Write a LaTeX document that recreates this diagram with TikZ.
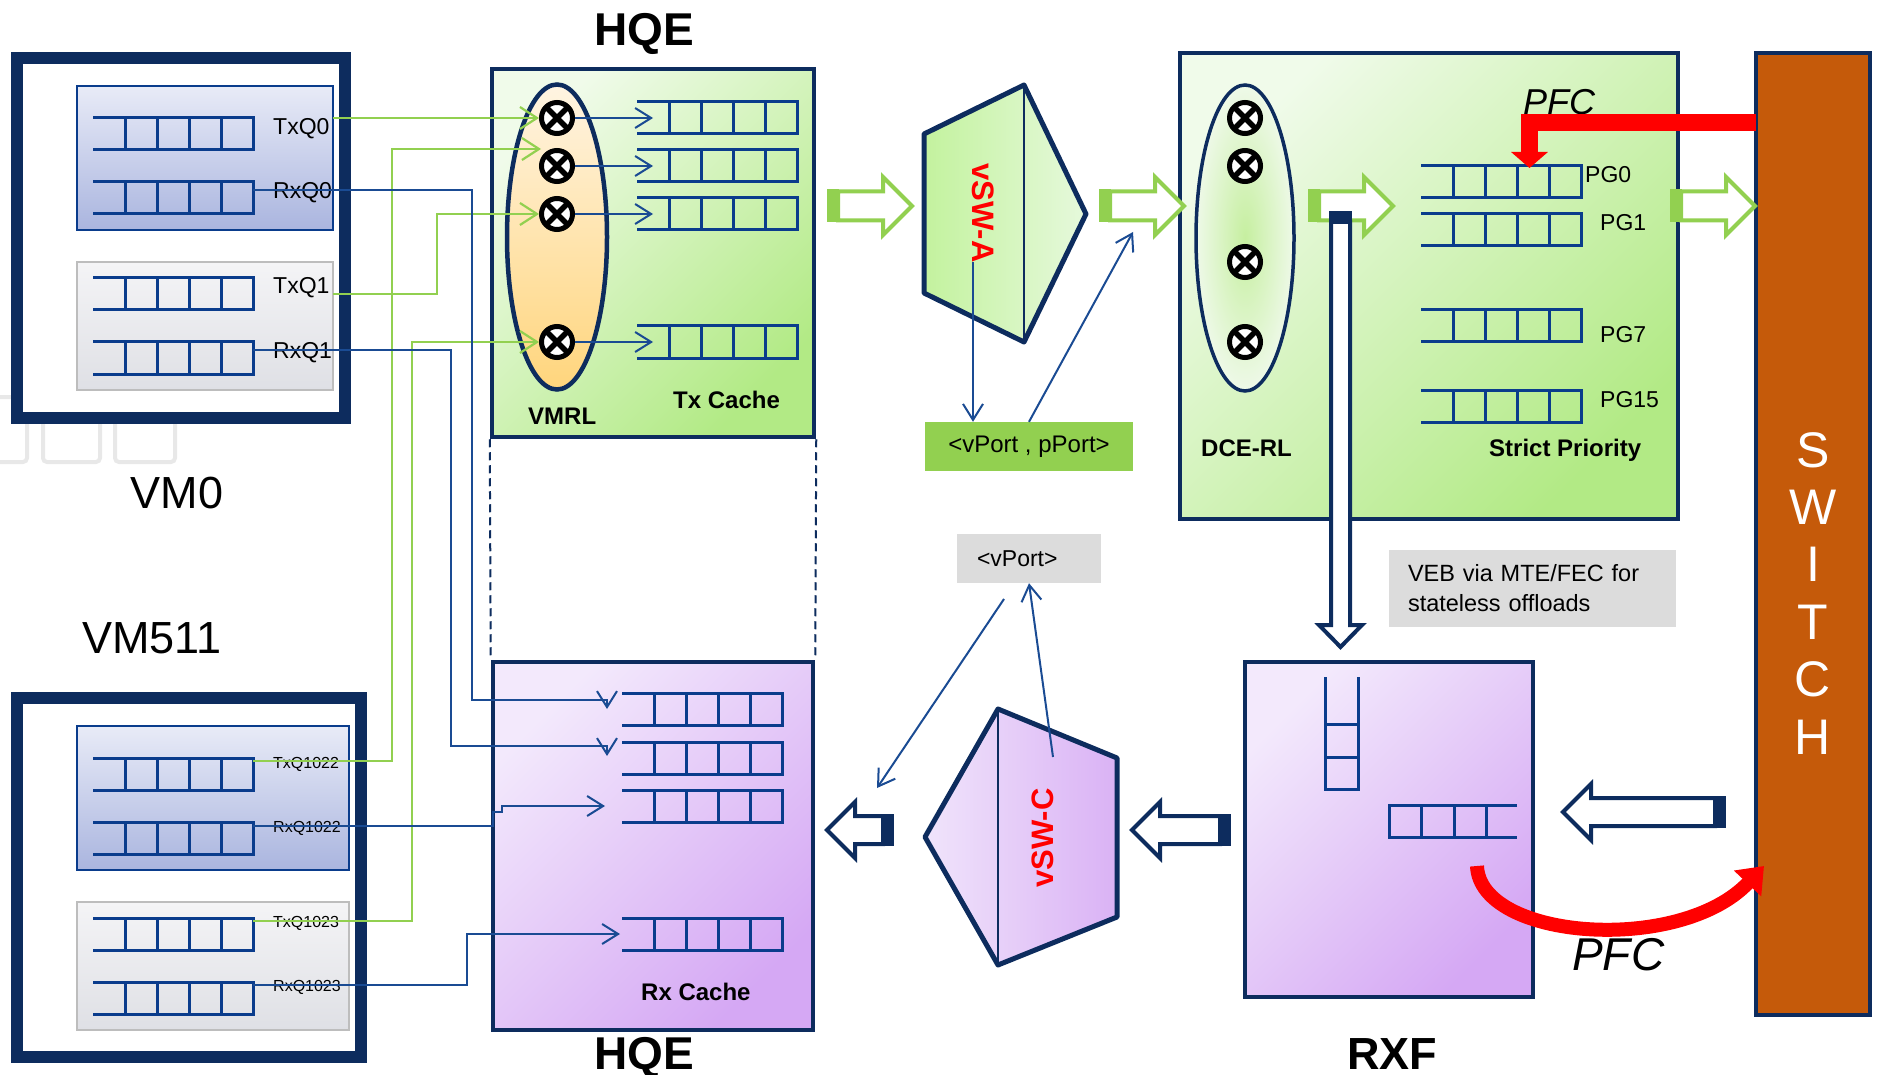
\documentclass[tikz,border=0pt]{standalone}
\usepackage{fontspec}
\setmainfont{Liberation Sans}
\usetikzlibrary{arrows.meta,shapes.geometric}
\definecolor{navy}{HTML}{0D2C5E}
\definecolor{qblue}{HTML}{0A3C8C}
\definecolor{lblue}{HTML}{1A4B93}
\definecolor{lgreen}{HTML}{92D050}
\definecolor{swo}{HTML}{C55A0A}
\definecolor{gry}{HTML}{DCDCDC}
\definecolor{txtop}{HTML}{F0FBEA}
\definecolor{txbot}{HTML}{B2EA85}
\definecolor{rxtop}{HTML}{F3E9FC}
\definecolor{rxbot}{HTML}{D5A8F4}
\definecolor{gbtop}{HTML}{E8EBF7}
\definecolor{gbbot}{HTML}{AAB5DF}
\definecolor{ggtop}{HTML}{F4F4F6}
\definecolor{ggbot}{HTML}{DFE0E5}
\definecolor{ggdraw}{HTML}{BDBDBD}
\definecolor{vmtop}{HTML}{FFF4E2}
\definecolor{vmbot}{HTML}{FFD57C}
\definecolor{dcein}{HTML}{C6EFA0}
\definecolor{dceout}{HTML}{EEF9E8}
\definecolor{swal}{HTML}{C3F29E}
\definecolor{swar}{HTML}{E6F9DC}
\definecolor{swcl}{HTML}{F0E4FB}
\definecolor{swcr}{HTML}{DAB2F5}
\newcommand\fsz[1]{\fontsize{#1}{#1}\selectfont}
\newcommand\hqueue[2]{%
  \draw[qline] (#1,#2) -- ++(160,0) -- ++(0,32) -- ++(-160,0);
  \foreach \k in {32,64,96,128} \draw[qline] ({#1+\k},#2) -- ++(0,32);}
\newcommand\garrow[2]{%
  \draw[garr] ({#1+11},{#2-14.5}) -- ({#1+56},{#2-14.5}) -- ({#1+56},{#2-29}) -- ({#1+85},#2) -- ({#1+56},{#2+29}) -- ({#1+56},{#2+14.5}) -- ({#1+11},{#2+14.5}) -- cycle;
  \fill[lgreen] (#1,{#2-16.5}) rectangle ({#1+12},{#2+16.5});}
\newcommand\narrow[3]{%
  \draw[narr] (#1,#3) -- ({#1+28},{#3-28}) -- ({#1+28},{#3-14}) -- (#2,{#3-14}) -- (#2,{#3+14}) -- ({#1+28},{#3+14}) -- ({#1+28},{#3+28}) -- cycle;
  \fill[navy] (#2,{#3-16}) rectangle ({#2+11},{#3+16});}
\begin{document}
\begin{tikzpicture}[x=1pt,y=-1pt,
  qline/.style={draw=qblue, line width=3pt},
  gline/.style={draw=lgreen, line width=2.2pt, -{Straight Barb[length=17pt,width=22pt]}},
  bline/.style={draw=lblue, line width=2pt, -{Straight Barb[length=16pt,width=20pt]}},
  garr/.style={draw=lgreen, line width=4pt, fill=white, line join=miter},
  narr/.style={draw=navy, line width=4pt, fill=white, line join=miter},
  xc/.style={circle, draw=black, fill=white, line width=5pt, minimum size=31pt, inner sep=0pt,
    path picture={\draw[line width=5.5pt] (path picture bounding box.north west) -- (path picture bounding box.south east) (path picture bounding box.north east) -- (path picture bounding box.south west);}},
  vmframe/.style={draw=navy, line width=12pt, fill=white, inner sep=0pt},
  grpblue/.style={draw=qblue, line width=2.5pt, top color=gbtop, bottom color=gbbot, inner sep=0pt},
  grpgray/.style={draw=ggdraw, line width=2.5pt, top color=ggtop, bottom color=ggbot, inner sep=0pt},
  txbox/.style={draw=navy, line width=4.5pt, top color=txtop, bottom color=txbot, shading angle=45, inner sep=0pt},
  rxbox/.style={draw=navy, line width=4.5pt, top color=rxtop, bottom color=rxbot, shading angle=45, inner sep=0pt},
  lbl/.style={inner sep=0pt, anchor=base west},
  dashline/.style={draw=navy, line width=2pt, dash pattern=on 8pt off 5pt}
]
\useasboundingbox (0,0) rectangle (1877,1075);

% faded boxes behind VM0
\foreach \a/\b in {-10/27,43/100,115/175}
  \draw[draw=black!9, line width=4pt, rounded corners=4pt] (\a,397) rectangle (\b,462);

% ---------- VM0 ----------
\node[vmframe, minimum width=328pt, minimum height=360pt] (vm0) at (181,238) {};
\node[grpblue, minimum width=256pt, minimum height=144pt] (g0) at (205,158) {};
\node[grpgray, minimum width=256pt, minimum height=128pt] (g1) at (205,326) {};
\hqueue{93}{118}\hqueue{93}{182}\hqueue{93}{278}\hqueue{93}{342}
\node[lbl, font=\fsz{23}] (ltxq0) at (273,135) {TxQ0};
\node[lbl, font=\fsz{23}] (lrxq0) at (273,199) {RxQ0};
\node[lbl, font=\fsz{23}] (ltxq1) at (273,294) {TxQ1};
\node[lbl, font=\fsz{23}] (lrxq1) at (273,359) {RxQ1};
\node[anchor=base, inner sep=0pt, font=\fsz{45}] (lvm0) at (177,508) {VM0};

% ---------- VM511 ----------
\node[anchor=base, inner sep=0pt, font=\fsz{45}] (lvm511) at (152,653) {VM511};
\node[vmframe, minimum width=344pt, minimum height=359pt] (vm511) at (189,877.5) {};
\node[grpblue, minimum width=272pt, minimum height=144pt] (g1022) at (213,798) {};
\node[grpgray, minimum width=272pt, minimum height=128pt] (g1023) at (213,966) {};
\hqueue{93}{758}\hqueue{93}{822}\hqueue{93}{918}\hqueue{93}{982}
\node[lbl, font=\fsz{16}] (ltxq1022) at (273,768) {TxQ1022};
\node[lbl, font=\fsz{16}] (lrxq1022) at (273,832) {RxQ1022};
\node[lbl, font=\fsz{16}] (ltxq1023) at (273,927) {TxQ1023};
\node[lbl, font=\fsz{16}] (lrxq1023) at (273,991) {RxQ1023};

% ports
\coordinate (txq0p) at (333,118);
\coordinate (rxq0p) at (253,190);
\coordinate (txq1p) at (333,294);
\coordinate (rxq1p) at (253,350);
\coordinate (txq1022p) at (253,761);
\coordinate (rxq1022p) at (253,826);
\coordinate (txq1023p) at (253,921);
\coordinate (rxq1023p) at (253,985);

% ---------- HQE ----------
\node[txbox, minimum width=322pt, minimum height=368pt] (hqetx) at (653,253) {};
\node[rxbox, minimum width=320pt, minimum height=368pt] (hqerx) at (653,846) {};
\draw[dashline] (hqetx.south west) -- (hqerx.north west);
\draw[dashline] (hqetx.south east) -- (hqerx.north east);
\node[ellipse, draw=navy, line width=4.5pt, top color=vmtop, bottom color=vmbot, minimum width=100pt, minimum height=305pt, inner sep=0pt] (vmrl) at (557,237) {};
\hqueue{637}{102}\hqueue{637}{150}\hqueue{637}{198}\hqueue{637}{326}
\hqueue{622}{693}\hqueue{622}{742}\hqueue{622}{790}\hqueue{622}{918}
\node[lbl, font=\bfseries\fsz{24}] (lvmrl) at (528,424) {VMRL};
\node[lbl, font=\bfseries\fsz{24}] (ltxc) at (673,408) {Tx Cache};
\node[lbl, font=\bfseries\fsz{24}] (lrxc) at (641,1000) {Rx Cache};
\node[anchor=base, inner sep=0pt, font=\bfseries\fsz{46}] (lhqe1) at (644,46) {HQE};
\node[anchor=base, inner sep=0pt, font=\bfseries\fsz{46}] (lhqe2) at (644,1069) {HQE};
\coordinate (ta1) at (653,118);
\coordinate (ta2) at (653,166);
\coordinate (ta3) at (653,214);
\coordinate (ta4) at (653,342);
\coordinate (gmid) at (541,149);
\coordinate (rxa1) at (607,709);
\coordinate (rxa2) at (607,756);
\coordinate (rxa3) at (605,806);
\coordinate (rxa4) at (620,934);

% ---------- vSW-A ----------
\draw[draw=navy, line width=5pt, line join=round, left color=swal, right color=swar] (924,134) -- (1024,85) -- (1086,214) -- (1024,342) -- (924,293) -- cycle;
\draw[navy, line width=2pt] (1024,85) -- (1024,342);
\node[rotate=-90, text=red, font=\bfseries\fsz{31}, inner sep=0pt] (vswa) at (983,213) {vSW-A};
\node[fill=lgreen, minimum width=208pt, minimum height=49pt, inner sep=0pt, font=\fsz{24}] (vpp) at (1029,446.5) {<vPort , pPort>};
\coordinate (vswaout) at (973,262);
\coordinate (gapA) at (1133,232);

% ---------- DCE ----------
\node[txbox, line width=3.5pt, minimum width=498pt, minimum height=466pt] (dce) at (1429,286) {};
\node[ellipse, draw=navy, line width=3.5pt, inner color=dcein, outer color=dceout, minimum width=98pt, minimum height=306pt, inner sep=0pt] (dcerl) at (1245,238) {};
\hqueue{1421}{166}\hqueue{1421}{214}\hqueue{1421}{310}\hqueue{1421}{390}
\node[lbl, font=\fsz{23}] (lpg0) at (1585,183) {PG0};
\node[lbl, font=\fsz{23}] (lpg1) at (1600,231) {PG1};
\node[lbl, font=\fsz{23}] (lpg7) at (1600,342) {PG7};
\node[lbl, font=\fsz{23}] (lpg15) at (1600,407) {PG15};
\node[lbl, font=\bfseries\fsz{24}] (ldce) at (1201,456) {DCE-RL};
\node[lbl, font=\bfseries\fsz{24}] (lsp) at (1489,456) {Strict Priority};
\node[lbl, font=\itshape\fsz{36}] (lpfc1) at (1523,115) {PFC};

% ---------- Switch ----------
\node[draw=navy, line width=3.5pt, fill=swo, minimum width=114pt, minimum height=962pt, inner sep=0pt] (sw) at (1813,534) {};
\foreach \c [count=\i from 0] in {S,W,I,T,C,H}
  \node[anchor=base, inner sep=0pt, text=white, font=\fsz{50}] (sw\i) at (1813,{467+57.4*\i}) {\c};

% ---------- green block arrows ----------
\garrow{827}{206}
\garrow{1099}{206}
\garrow{1308}{206}
\garrow{1670}{206}

% ---------- down hollow arrow ----------
\draw[narr] (1331,222) -- (1331,625) -- (1319,625) -- (1340.5,647) -- (1362,625) -- (1350,625) -- (1350,222) -- cycle;
\fill[navy] (1329,211) rectangle (1352,224);

% ---------- VEB note ----------
\node[fill=gry, minimum height=77pt, text width=249pt, inner xsep=19pt, inner ysep=0pt, align=left, font=\fontsize{23.5}{30}\selectfont] (veb) at (1532.5,588.5) {VEB via MTE/FEC for\\stateless offloads};

% ---------- RXF ----------
\node[rxbox, line width=4pt, minimum width=288pt, minimum height=335pt] (rxf) at (1389,829.5) {};
\draw[qline] (1325,677) -- (1325,789) -- (1358,789) -- (1358,677);
\draw[qline] (1325,724) -- (1358,724);
\draw[qline] (1325,757) -- (1358,757);
\draw[qline] (1517,805) -- (1389,805) -- (1389,837) -- (1517,837);
\foreach \k in {1421,1454,1486} \draw[qline] (\k,805) -- (\k,837);
\node[anchor=base, inner sep=0pt, font=\bfseries\fsz{45}] (lrxf) at (1392,1069) {RXF};

% ---------- navy hollow arrows ----------
\narrow{1563}{1715}{812}
\narrow{1132}{1220}{830}
\narrow{827}{883}{830}

% ---------- vSW-C ----------
\draw[draw=navy, line width=5pt, line join=round, left color=swcl, right color=swcr] (998,709) -- (1117,758) -- (1117,917) -- (998,965) -- (925,837) -- cycle;
\draw[navy, line width=2pt] (998,709) -- (998,965);
\node[rotate=90, text=red, font=\bfseries\fsz{31}, inner sep=0pt] (vswc) at (1043,838) {vSW-C};
\node[fill=gry, minimum height=49pt, text width=104pt, inner xsep=20pt, inner ysep=0pt, align=left, font=\fsz{23}] (vp) at (1029,558.5) {<vPort>};
\coordinate (vswcout) at (1053,757);
\coordinate (vpl) at (1004,599);
\coordinate (vpend) at (877,788);

% ---------- red PFC arrows ----------
\coordinate (pfcA) at (1756,122.5);
\coordinate (pfcB) at (1529.5,168);
\draw[red, line width=17pt, -{Triangle[width=36pt,length=16pt]}] (pfcA) -| (pfcB);
\coordinate (pfcC) at (1477,866);
\coordinate (pfcD) at (1764,866);
\draw[red, line width=14pt, -{Triangle[width=36pt,length=24pt]}] (pfcC) .. controls (1480,940) and (1680,955) .. (pfcD);
\node[lbl, font=\itshape\fsz{46}] (lpfc2) at (1572,970) {PFC};

% ---------- crossed circles ----------
\node[xc] (c1) at (557,118) {};
\node[xc] (c2) at (557,166) {};
\node[xc] (c3) at (557,214) {};
\node[xc] (c4) at (557,342) {};
\node[xc] (d1) at (1245,118) {};
\node[xc] (d2) at (1245,166) {};
\node[xc] (d3) at (1245,262) {};
\node[xc] (d4) at (1245,342) {};

% ---------- connectors ----------
\draw[gline] (txq0p) -- (c1.west);
\draw[gline] (txq1022p) -- (392,761) -- (392,149) -- (gmid);
\draw[gline] (txq1p) -- (437,294) -- (437,214) -- (c3.west);
\draw[gline] (txq1023p) -- (412,921) -- (412,342) -- (c4.west);

\draw[bline] (rxq0p) -- (472,190) -- (472,700) -- (607,700) -- (rxa1);
\draw[bline] (rxq1p) -- (451,350) -- (451,746) -- (607,746) -- (rxa2);
\draw[bline] (rxq1022p) -- (493,826) -- (493,812) -- (502,812) -- (502,806) -- (rxa3);
\draw[bline] (rxq1023p) -- (467,985) -- (467,934) -- (rxa4);

\draw[bline] (c1.east) -- (ta1);
\draw[bline] (c2.east) -- (ta2);
\draw[bline] (c3.east) -- (ta3);
\draw[bline] (c4.east) -- (ta4);

\draw[bline] (vswaout) -- (vswaout |- vpp.north);
\draw[bline] (vpp.north) -- (gapA);
\draw[bline] (vswcout) -- (vp.south);
\draw[bline] (vpl) -- (vpend);
\end{tikzpicture}
\end{document}
